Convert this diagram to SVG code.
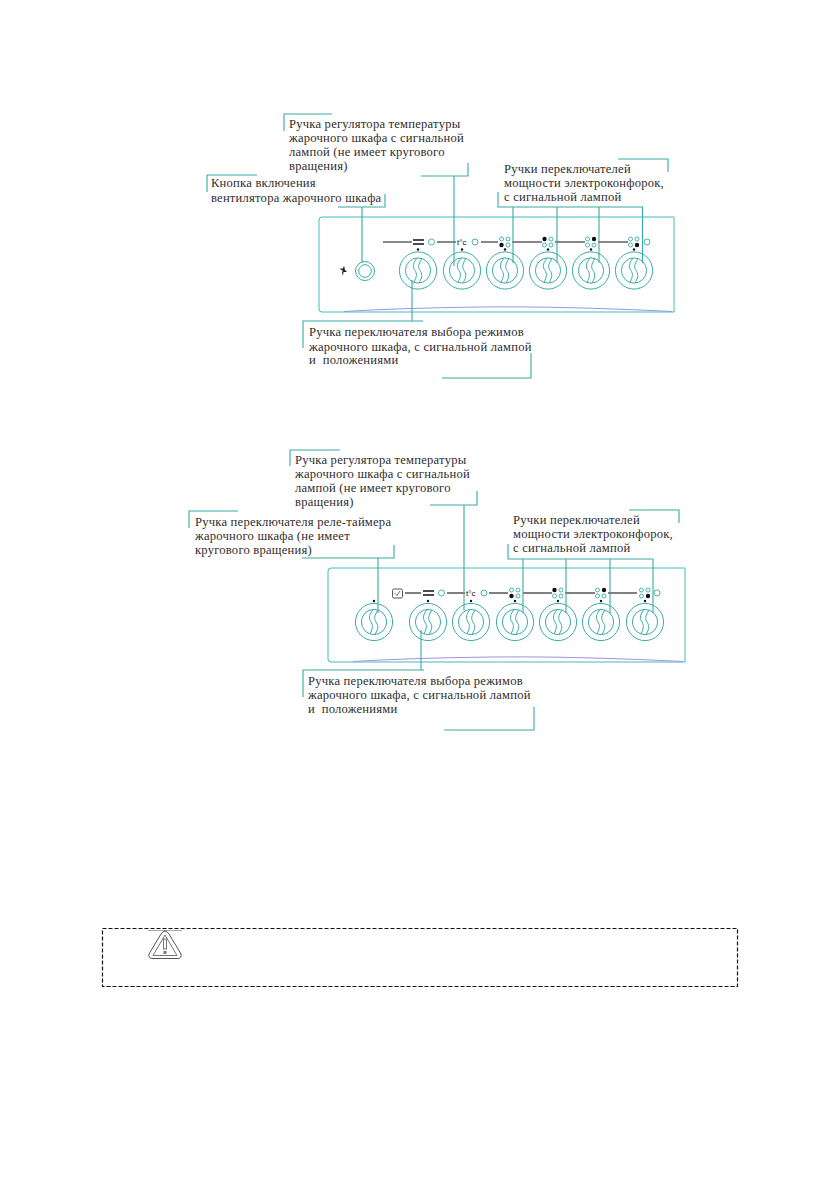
<svg xmlns="http://www.w3.org/2000/svg" width="839" height="1191" viewBox="0 0 839 1191">
<style>
text{font-family:"Liberation Serif","Times New Roman",serif;font-size:12.6px;fill:#2e2e2e;letter-spacing:.22px}
.tc{font-family:"Liberation Sans",sans-serif;font-size:8px;letter-spacing:0;fill:#111}
.t{fill:none;stroke:#3aaaa6;stroke-width:1.1}
.k{fill:none;stroke:#3aaca6;stroke-width:1}
.b{stroke:#111;stroke-width:1.2;fill:none}
.g{stroke:#555;stroke-width:1.3;fill:none}
.o{fill:#fff;stroke:#3aaca6;stroke-width:.9}
.p{fill:none;stroke:#45bdb8;stroke-width:1}
.wave{fill:none;stroke:#9c94e6;stroke-width:1}
.m{fill:#111}
</style>
<defs>
<g id="knob">
<circle class="k" r="18.6"/><circle class="k" r="12.6"/>
<path class="k" d="M-1-12.4C-6-6-5-3-3 0S-1 6-4 11.800M4-12C0-6 0-3 2 0S5 6 1 12.400"/>
<circle class="m" cy="-21" r="1.200"/>
</g>
<g id="b1"><circle class="o" cx="-3.500" cy="-3" r="2"/><circle class="o" cx="3" cy="-3" r="2"/><circle class="m" cx="-3.500" cy="3" r="2.200"/><circle class="o" cx="3" cy="3" r="2"/></g>
<g id="b2"><circle class="m" cx="-3.500" cy="-3" r="2.200"/><circle class="o" cx="3" cy="-3" r="2"/><circle class="o" cx="-3.500" cy="3" r="2"/><circle class="o" cx="3" cy="3" r="2"/></g>
<g id="b3"><circle class="o" cx="-3.500" cy="-3" r="2"/><circle class="m" cx="3" cy="-3" r="2.200"/><circle class="o" cx="-3.500" cy="3" r="2"/><circle class="o" cx="3" cy="3" r="2"/></g>
<g id="b4"><circle class="o" cx="-3.500" cy="-3" r="2"/><circle class="o" cx="3" cy="-3" r="2"/><circle class="o" cx="-3.500" cy="3" r="2"/><circle class="m" cx="3" cy="3" r="2.200"/></g>
</defs>
<rect width="839" height="1191" fill="#fff"/>

<g id="panel-1">
<path class="p" d="M322 217H674V312H322Q319 312 319 309V220Q319 217 322 217Z"/>
<path class="wave" d="M344 311.500Q400 308 480 307T672 311.500"/>
<path class="b" d="M383 242H412M437 242H456M481 242H498M512 242H542M555 242H585M598 242H628"/>
<path d="M413 240H424M413 244H424" stroke="#111" stroke-width="1.600"/>
<circle class="o" cx="431.500" cy="242" r="3"/><circle class="o" cx="475" cy="242" r="3"/><circle class="o" cx="647" cy="242" r="3"/>
<text class="tc" x="457" y="245">t°c</text>
<use href="#b1" x="505" y="242"/><use href="#b2" x="548" y="242"/><use href="#b3" x="591" y="242"/><use href="#b4" x="634" y="242"/>
</g>
<g id="fan-button-1"><circle class="k" cx="365" cy="271" r="9.500"/><circle class="k" cx="365" cy="271" r="6.300"/>
<path d="M343 271L339.500 268.500L343 268.500L344 265.500L345 270L347 272L343.500 272L343 276L342 272Z" fill="#222"/></g>
<g id="knob-1-1"><use href="#knob" x="418" y="270.500"/></g>
<g id="knob-1-2"><use href="#knob" x="462" y="270.500"/></g>
<g id="knob-1-3"><use href="#knob" x="505" y="270.500"/></g>
<g id="knob-1-4"><use href="#knob" x="548" y="270.500"/></g>
<g id="knob-1-5"><use href="#knob" x="591" y="270.500"/></g>
<g id="knob-1-6"><use href="#knob" x="634" y="270.500"/></g>

<g id="panel-2">
<path class="p" d="M331 568H685V662H331Q328 662 328 659V571Q328 568 331 568Z"/>
<path class="wave" d="M353 661.500Q410 658 490 657T683 661.500"/>
<rect x="392.500" y="589" width="10" height="9" rx="1.500" fill="none" stroke="#555"/>
<path d="M395 593.500L397 595.500L400 591" fill="none" stroke="#444" stroke-width=".8"/>
<path class="g" d="M405 593H421M447 593H465M489 593H508M523 593H552M565 593H595M608 593H637"/>
<path d="M423 591H434M423 595H434" stroke="#111" stroke-width="1.600"/>
<circle class="o" cx="441.500" cy="593" r="3"/><circle class="o" cx="484" cy="593" r="3"/><circle class="o" cx="657" cy="593" r="3"/>
<text class="tc" x="466" y="596">t°c</text>
<use href="#b1" x="515" y="593"/><use href="#b2" x="558" y="593"/><use href="#b3" x="601" y="593"/><use href="#b4" x="645" y="593"/>
</g>
<g id="knob-2-1"><use href="#knob" x="374" y="622"/></g>
<g id="knob-2-2"><use href="#knob" x="428" y="622"/></g>
<g id="knob-2-3"><use href="#knob" x="471" y="622"/></g>
<g id="knob-2-4"><use href="#knob" x="515" y="622"/></g>
<g id="knob-2-5"><use href="#knob" x="558" y="622"/></g>
<g id="knob-2-6"><use href="#knob" x="601" y="622"/></g>
<g id="knob-2-7"><use href="#knob" x="645" y="622"/></g>

<g id="connectors">
<path class="t" d="M284 131V114H332M421 176H468V163M454 176V266"/>
<path class="t" d="M207 192V175H257M338 207H385V194M362 207V263"/>
<path class="t" d="M498 192V207H643M618 159H668V172M513 207V263M557 207V263M599 207V263M642.500 207V263"/>
<path class="t" d="M303 348V321H423M442 378H531V353M412 321V280"/>
<path class="t" d="M290 466V450H340M430 505H477V491M464 505V610"/>
<path class="t" d="M189 528V511H238M302 558H394V545M378 558V613"/>
<path class="t" d="M508 544V559H653M629 510H679V523M523 559V613M566 559V613M610 559V613M653 559V613"/>
<path class="t" d="M303 697V670H424M444 730H534V707M421 670V630"/>
</g>

<g id="labels-1">
<text x="289" y="128">Ручка регулятора температуры</text>
<text x="289" y="142">жарочного шкафа с сигнальной</text>
<text x="289" y="156">лампой (не имеет кругового</text>
<text x="289" y="170">вращения)</text>
<text x="211" y="187">Кнопка включения</text>
<text x="211" y="202">вентилятора жарочного шкафа</text>
<text x="504" y="173">Ручки переключателей</text>
<text x="504" y="187">мощности электроконфорок,</text>
<text x="504" y="201">с сигнальной лампой</text>
<text x="309" y="336">Ручка переключателя выбора режимов</text>
<text x="309" y="351">жарочного шкафа, с сигнальной лампой</text>
<text x="309" y="364" xml:space="preserve">и  положениями</text>
</g>
<g id="labels-2">
<text x="295" y="464">Ручка регулятора температуры</text>
<text x="295" y="478">жарочного шкафа с сигнальной</text>
<text x="295" y="492">лампой (не имеет кругового</text>
<text x="295" y="506">вращения)</text>
<text x="195" y="526">Ручка переключателя реле-таймера</text>
<text x="195" y="540">жарочного шкафа (не имеет</text>
<text x="195" y="554">кругового вращения)</text>
<text x="513" y="524">Ручки переключателей</text>
<text x="513" y="538">мощности электроконфорок,</text>
<text x="513" y="552">с сигнальной лампой</text>
<text x="308" y="685">Ручка переключателя выбора режимов</text>
<text x="308" y="699">жарочного шкафа, с сигнальной лампой</text>
<text x="308" y="713" xml:space="preserve">и  положениями</text>
</g>

<g id="warning">
<rect x="102.500" y="928.500" width="635" height="58" fill="none" stroke="#111" stroke-width="1.200" stroke-dasharray="4 2"/>
<path d="M148 930.500H182" stroke="#aaa" fill="none"/>
<path d="M165 931Q167 931 169 934L181 954Q182 958 178 958.500H152Q148 958 149 954L161 934Q163 931 165 931Z" fill="none" stroke="#555" stroke-width="1"/>
<path d="M165 935L177 955.500H153Z" fill="none" stroke="#777" stroke-width="1"/>
<rect x="163.500" y="939" width="3" height="10" fill="none" stroke="#555" stroke-width=".8"/>
<rect x="163.500" y="951" width="3" height="3" fill="#777"/>
</g>
</svg>
